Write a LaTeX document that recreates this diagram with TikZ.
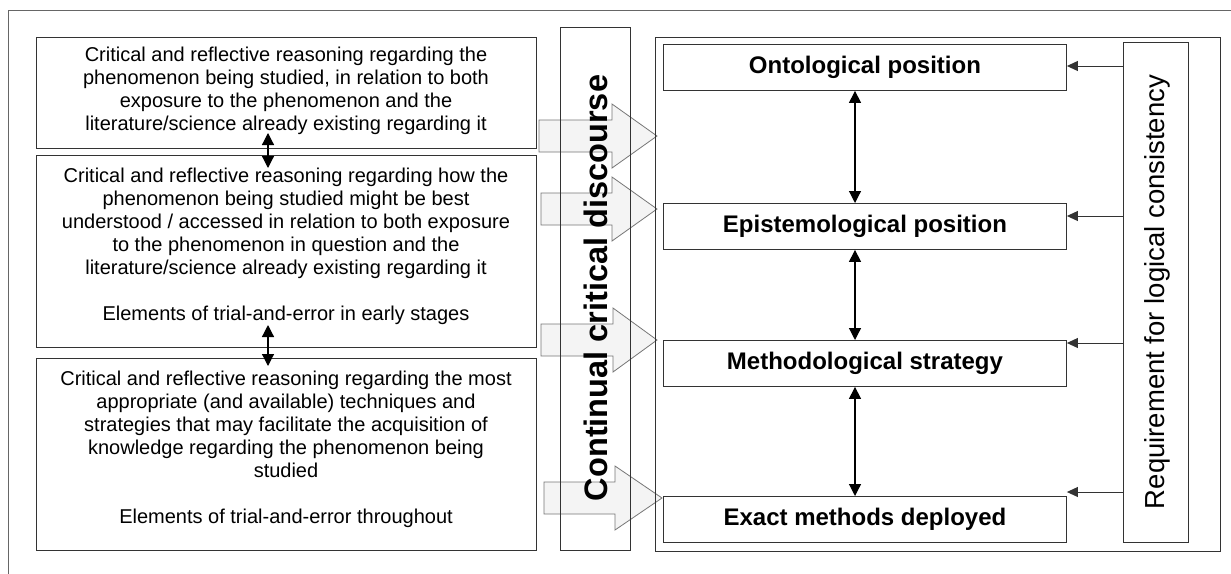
\documentclass[tikz,border=0pt]{standalone}
\usepackage{fontspec}
\setmainfont{Liberation Sans}
\usetikzlibrary{arrows.meta,calc}
\definecolor{edge}{HTML}{333333}
\definecolor{frame}{HTML}{666666}
\definecolor{arrowfill}{HTML}{F4F4F4}
\definecolor{arrowedge}{HTML}{777777}
\begin{document}
\begin{tikzpicture}[x=1pt,y=-1pt,
  panel/.style={draw=edge,line width=0.9pt,anchor=north west,inner sep=0pt},
  bodytext/.style={align=center,font=\fontsize{20}{23}\selectfont,inner sep=0pt},
  stage/.style={panel,minimum width=403pt,minimum height=46pt,
     font=\fontsize{24}{26}\selectfont\bfseries},
  bigarrow/.style={draw=arrowedge,fill=arrowfill,line width=0.8pt,line join=miter},
  dbl/.style={{Triangle[length=12pt,width=12pt]}-{Triangle[length=12pt,width=12pt]},line width=1.2pt,black},
  req/.style={-{Triangle[length=11pt,width=10pt]},line width=1pt,edge}]
\useasboundingbox (0,0) rectangle (1231,573);
\fill[white] (0,0) rectangle (1231,573);
% outer frame (runs past the page edges)
\draw[frame,line width=1pt] (8,580) -- (8,10) -- (1240,10);

% reasoning panels on the left
\node[panel,minimum width=500pt,minimum height=111pt] (r1) at (36,37) {};
\node[panel,minimum width=500pt,minimum height=192pt] (r2) at (36,155) {};
\node[panel,minimum width=500pt,minimum height=192pt] (r3) at (36,358) {};

\node[bodytext] (t1) at (286,90.5) {Critical and reflective reasoning regarding the\\
phenomenon being studied, in relation to both\\
exposure to the phenomenon and the\\
literature/science already existing regarding it};
\node[bodytext] (t2) at (286,246.5) {Critical and reflective reasoning regarding how the\\
phenomenon being studied might be best\\
understood / accessed in relation to both exposure\\
to the phenomenon in question and the\\
literature/science already existing regarding it\\[23pt]
Elements of trial-and-error in early stages};
\node[bodytext] (t3) at (286,449) {Critical and reflective reasoning regarding the most\\
appropriate (and available) techniques and\\
strategies that may facilitate the acquisition of\\
knowledge regarding the phenomenon being\\
studied\\[23pt]
Elements of trial-and-error throughout};

% links between the reasoning panels
\coordinate (a1s) at (268,133);
\coordinate (a1e) at (268,168);
\coordinate (a2s) at (268,325);
\coordinate (a2e) at (268,366);
\draw[dbl] (a1s) -- (a1e);
\draw[dbl] (a2s) -- (a2e);

% block arrows into the position panel
\foreach \xs/\xb/\xt/\yc in {539/612/657/136, 541/612/657/209, 541/613/657/340, 544/615/662/498}{
  \draw[bigarrow] (\xs,\yc-16) -- (\xb,\yc-16) -- (\xb,\yc-32) -- (\xt,\yc)
     -- (\xb,\yc+32) -- (\xb,\yc+16) -- (\xs,\yc+16) -- cycle;
}

% continual critical discourse column
\node[panel,minimum width=70pt,minimum height=523pt] (disc) at (560,27) {};
\node[rotate=90,font=\fontsize{32.5}{34}\selectfont\bfseries,inner sep=0pt] (disct) at (596,288) {Continual critical discourse};

% position panel on the right
\node[panel,minimum width=565pt,minimum height=514pt] (pos) at (655,37) {};
\node[stage] (onto) at (663,44) {Ontological position};
\node[stage] (epis) at (663,203) {Epistemological position};
\node[stage] (meth) at (663,340) {Methodological strategy};
\node[stage] (exact) at (663,496) {Exact methods deployed};

\draw[dbl] (onto.south -| 855,0) -- (epis.north -| 855,0);
\draw[dbl] (epis.south -| 855,0) -- (meth.north -| 855,0);
\draw[dbl] (meth.south -| 855,0) -- (exact.north -| 855,0);

% logical consistency column
\node[panel,minimum width=65pt,minimum height=500pt] (cons) at (1123,42) {};
\node[rotate=90,font=\fontsize{27.5}{30}\selectfont,inner sep=0pt] (const) at (1157,292) {Requirement for logical consistency};

\draw[req] (cons.west |- 0,66) -- (onto.east |- 0,66);
\draw[req] (cons.west |- 0,216) -- (epis.east |- 0,216);
\draw[req] (cons.west |- 0,343) -- (meth.east |- 0,343);
\draw[req] (cons.west |- 0,492) -- (exact.east |- 0,492);
\end{tikzpicture}
\end{document}
